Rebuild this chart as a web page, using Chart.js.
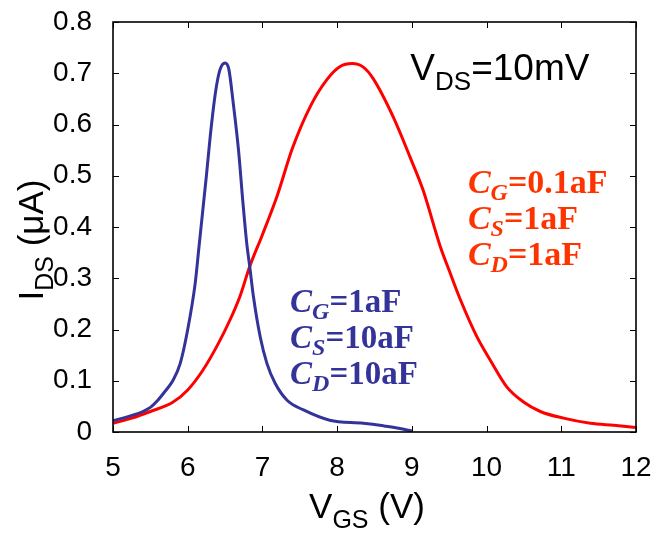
<!DOCTYPE html>
<html>
<head>
<meta charset="utf-8">
<script src="https://cdn.jsdelivr.net/npm/chart.js@4"></script>
<style>
  body { margin: 0; background: #fff; }
  canvas { display: block; }
</style>
</head>
<body>
<canvas id="ivChart" width="652" height="535"></canvas>
<script>
// C_G=1aF, C_S=C_D=10aF
const blueVgs = [5.0, 5.2, 5.4, 5.5, 5.6, 5.7, 5.8, 5.9, 6.0, 6.1, 6.15, 6.2, 6.25, 6.3, 6.37, 6.43, 6.5, 6.55, 6.61, 6.68, 6.74, 6.79, 6.83, 6.88, 6.97, 7.06, 7.17, 7.33, 7.55, 7.9, 8.35, 8.62, 8.8, 9.0];
const blueIds = [0.022, 0.030, 0.040, 0.048, 0.062, 0.080, 0.100, 0.134, 0.200, 0.290, 0.360, 0.430, 0.500, 0.575, 0.661, 0.706, 0.720, 0.708, 0.641, 0.550, 0.446, 0.368, 0.323, 0.264, 0.186, 0.134, 0.095, 0.062, 0.043, 0.023, 0.017, 0.012, 0.008, 0.002];

// C_G=0.1aF, C_S=C_D=1aF
const redVgs = [5.0, 5.25, 5.5, 5.8, 6.0, 6.2, 6.4, 6.57, 6.7, 6.83, 7.0, 7.2, 7.4, 7.64, 7.86, 8.04, 8.2, 8.35, 8.48, 8.75, 8.98, 9.15, 9.38, 9.5, 9.65, 9.87, 10.05, 10.27, 10.49, 10.72, 11.03, 11.39, 11.7, 12.0];
const redIds = [0.017, 0.027, 0.040, 0.058, 0.082, 0.120, 0.170, 0.220, 0.265, 0.323, 0.385, 0.462, 0.553, 0.635, 0.687, 0.713, 0.719, 0.712, 0.690, 0.615, 0.535, 0.472, 0.362, 0.315, 0.258, 0.186, 0.140, 0.088, 0.059, 0.040, 0.027, 0.017, 0.013, 0.009];

const blueLabel = [['G', '=1aF'], ['S', '=10aF'], ['D', '=10aF']];
const redLabel = [['G', '=0.1aF'], ['S', '=1aF'], ['D', '=1aF']];

const toPoints = (xs, ys) => xs.map((v, i) => ({ x: v, y: ys[i] }));

const SANS = '"Liberation Sans", Arial, sans-serif';
const SERIF = '"Liberation Serif", "Times New Roman", serif';

// draws a run of text pieces one after another, each with its own font and baseline shift
function drawParts(ctx, x, y, parts, color, align) {
    ctx.save();
    ctx.fillStyle = color;
    ctx.textBaseline = 'alphabetic';
    ctx.textAlign = 'left';
    let total = 0;
    parts.forEach(p => { ctx.font = p.font; total += ctx.measureText(p.text).width; });
    let cx = align === 'center' ? x - total / 2 : x;
    parts.forEach(p => {
        ctx.font = p.font;
        ctx.fillText(p.text, cx, y + (p.dy || 0));
        cx += ctx.measureText(p.text).width;
    });
    ctx.restore();
}

function capLines(ctx, xs, ys, lines, color, size, scaleX, scaleY) {
    lines.forEach((l, i) => {
        drawParts(ctx, scaleX.getPixelForValue(xs), scaleY.getPixelForValue(ys) + i * 36, [
            { text: 'C', font: 'italic bold ' + size + 'px ' + SERIF },
            { text: l[0], font: 'italic bold ' + Math.round(size * 0.72) + 'px ' + SERIF, dy: 7 },
            { text: l[1], font: 'bold ' + size + 'px ' + SERIF }
        ], color);
    });
}

const decorPlugin = {
    id: 'decor',
    afterDatasetsDraw(chart) {
        const { ctx, chartArea: a, scales: { x, y } } = chart;
        ctx.save();
        ctx.strokeStyle = '#000';
        ctx.lineWidth = 1;
        ctx.beginPath();
        x.ticks.forEach(t => {
            const px = Math.round(x.getPixelForValue(t.value)) + 0.5;
            ctx.moveTo(px, a.bottom); ctx.lineTo(px, a.bottom - 6);
            ctx.moveTo(px, a.top); ctx.lineTo(px, a.top + 6);
        });
        y.ticks.forEach(t => {
            const py = Math.round(y.getPixelForValue(t.value)) + 0.5;
            ctx.moveTo(a.left, py); ctx.lineTo(a.left + 6, py);
            ctx.moveTo(a.right, py); ctx.lineTo(a.right - 6, py);
        });
        ctx.stroke();
        ctx.lineWidth = 1.6;
        ctx.strokeRect(a.left, a.top, a.right - a.left, a.bottom - a.top);
        ctx.restore();

        // V_DS note
        drawParts(ctx, x.getPixelForValue(8.98), y.getPixelForValue(0.687), [
            { text: 'V', font: '37px ' + SANS },
            { text: 'DS', font: '26px ' + SANS, dy: 10 },
            { text: '=10mV', font: '37px ' + SANS }
        ], '#000');

        capLines(ctx, 9.75, 0.466, redLabel, '#ff3300', 34, x, y);
        capLines(ctx, 7.37, 0.234, blueLabel, '#333399', 33, x, y);

        // axis titles
        drawParts(ctx, 367, 518, [
            { text: 'V', font: '35px ' + SANS },
            { text: 'GS', font: '25px ' + SANS, dy: 10 },
            { text: ' (V)', font: '35px ' + SANS }
        ], '#000', 'center');

        ctx.save();
        ctx.translate(43, 240);
        ctx.rotate(-Math.PI / 2);
        drawParts(ctx, 0, 0, [
            { text: 'I', font: '35px ' + SANS },
            { text: 'DS', font: '25px ' + SANS, dy: 10 },
            { text: ' (\u03bcA)', font: '35px ' + SANS }
        ], '#000', 'center');
        ctx.restore();
    }
};

const tickFont = { family: SANS, size: 28 };

new Chart(document.getElementById('ivChart'), {
    type: 'line',
    data: {
        datasets: [{
            data: toPoints(blueVgs, blueIds),
            borderColor: '#333399',
            borderWidth: 3,
            cubicInterpolationMode: 'monotone',
            pointRadius: 0,
            fill: false
        }, {
            data: toPoints(redVgs, redIds),
            borderColor: '#ff0000',
            borderWidth: 3,
            cubicInterpolationMode: 'monotone',
            pointRadius: 0,
            fill: false
        }]
    },
    options: {
        responsive: false,
        animation: false,
        layout: { padding: { top: 22, right: 16, left: 0, bottom: 0 } },
        plugins: { legend: { display: false }, tooltip: { enabled: false } },
        scales: {
            x: {
                type: 'linear',
                min: 5,
                max: 12,
                ticks: { stepSize: 1, color: '#000', font: tickFont, padding: 11, maxRotation: 0 },
                grid: { display: false },
                border: { display: false },
                afterFit(s) { s.height = 103; s.paddingLeft = 0; s.paddingRight = 0; }
            },
            y: {
                min: 0,
                max: 0.8,
                ticks: {
                    stepSize: 0.1, color: '#000', font: tickFont, padding: 13,
                    callback: v => (v === 0 ? '0' : v.toFixed(1))
                },
                grid: { display: false },
                border: { display: false },
                afterFit(s) { s.width = 113; s.paddingTop = 0; s.paddingBottom = 0; }
            }
        }
    },
    plugins: [decorPlugin]
});
</script>
</body>
</html>
